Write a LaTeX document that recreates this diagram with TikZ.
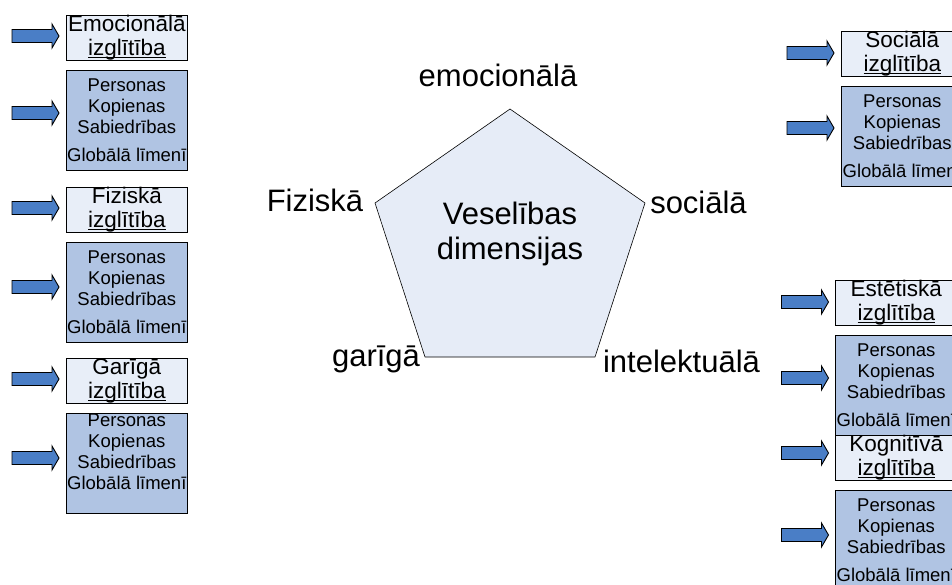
\documentclass[tikz,border=0pt]{standalone}
\usepackage{fontspec}
\setmainfont{Liberation Sans}

\definecolor{lightbox}{HTML}{E8EEF8}
\definecolor{darkbox}{HTML}{B0C4E3}
\definecolor{arrowblue}{HTML}{4A7EC6}
\definecolor{pentafill}{HTML}{E6ECF7}

% underline sitting just below the baseline, crossing descenders
\newcommand\ulword[1]{\setbox0\hbox{#1}\rlap{\rule[-2.5pt]{\wd0}{0.9pt}}\box0}

\tikzset{
  titlebox/.style={draw=black, line width=1.1pt, fill=lightbox,
    minimum width=121.5pt, minimum height=45pt, inner sep=0pt,
    align=center, anchor=north west, font=\fontsize{22.5}{24}\selectfont},
  levelbox/.style={draw=black, line width=1.1pt, fill=darkbox,
    minimum width=121.5pt, minimum height=100pt, inner sep=0pt,
    align=center, anchor=north west, font=\fontsize{18.5}{21}\selectfont},
  leveltext/.style={inner sep=0pt, align=center, font=\fontsize{18.5}{21}\selectfont},
  dimlabel/.style={inner sep=0pt, anchor=base, font=\fontsize{31}{35}\selectfont},
  % right-pointing block arrow, centred on its placement point
  blockarrow/.pic={
    \draw[draw=black, line width=0.9pt, fill=arrowblue, line join=miter]
      (-23.5,-6.5) -- (16.5,-6.5) -- (16.5,-12) -- (23.5,0) -- (16.5,12)
      -- (16.5,6.5) -- (-23.5,6.5) -- cycle;
  },
}

\begin{document}
\begin{tikzpicture}[x=1pt, y=-1pt]
\path[use as bounding box] (0,0) rectangle (952,584);
\clip (0,0) rectangle (952,584);

% --- central pentagon of health dimensions ---
\coordinate (ptop) at (510,109);
\coordinate (pright) at (645,203);
\coordinate (pbr) at (595,357);
\coordinate (pbl) at (425,357);
\coordinate (pleft) at (375,203);
\draw[fill=pentafill, line width=0.6pt] (ptop) -- (pright) -- (pbr) -- (pbl) -- (pleft) -- cycle;
\node[inner sep=0pt, align=center, font=\fontsize{31}{35}\selectfont] (core) at (510,234) {Veselības\\dimensijas};

\node[dimlabel] (lemo) at (498,86) {emocionālā};
\node[dimlabel] (lfiz) at (315,211) {Fiziskā};
\node[dimlabel] (lsoc) at (698.5,213) {sociālā};
\node[dimlabel] (lgar) at (376,366) {garīgā};
\node[dimlabel] (lint) at (681.5,372) {intelektuālā};

% --- left column ---
\node[titlebox] (a1) at (65.5,15) {Emocionālā\\\ulword{izglītība}};
\node[levelbox] (a2) at (65.5,70) {Personas\\Kopienas\\Sabiedrības\\[7pt]Globālā līmenī};
\node[titlebox] (b1) at (65.5,187) {Fiziskā\\\ulword{izglītība}};
\node[levelbox] (b2) at (65.5,242) {Personas\\Kopienas\\Sabiedrības\\[7pt]Globālā līmenī};
\node[titlebox] (c1) at (65.5,358) {Garīgā\\\ulword{izglītība}};
\node[levelbox] (c2) at (65.5,413) {};
\node[leveltext] (c2t) at ([yshift=11.5pt]c2.center) {Personas\\Kopienas\\Sabiedrības\\Globālā līmenī};

\pic (ra1) at (35.5,36) {blockarrow};
\pic (ra2) at (35.5,113) {blockarrow};
\pic (rb1) at (35.5,208) {blockarrow};
\pic (rb2) at (35.5,287) {blockarrow};
\pic (rc1) at (35.5,379) {blockarrow};
\pic (rc2) at (35.5,458) {blockarrow};

% --- right column ---
\node[titlebox] (d1) at (841,31) {Sociālā\\\ulword{izglītība}};
\node[levelbox] (d2) at (841,86) {Personas\\Kopienas\\Sabiedrības\\[7pt]Globālā līmenī};
\node[titlebox] (e1) at (835,280) {Estētiskā\\\ulword{izglītība}};
\node[levelbox] (e2) at (835,335) {Personas\\Kopienas\\Sabiedrības\\[7pt]Globālā līmenī};
\node[titlebox] (f1) at (835,435) {Kognitīvā\\\ulword{izglītība}};
\node[levelbox] (f2) at (835,490) {Personas\\Kopienas\\Sabiedrības\\[7pt]Globālā līmenī};

\pic (rd1) at (810.5,53) {blockarrow};
\pic (rd2) at (810.5,128) {blockarrow};
\pic (re1) at (805,302) {blockarrow};
\pic (re2) at (805,378) {blockarrow};
\pic (rf1) at (805,453) {blockarrow};
\pic (rf2) at (805,535) {blockarrow};
\end{tikzpicture}
\end{document}
